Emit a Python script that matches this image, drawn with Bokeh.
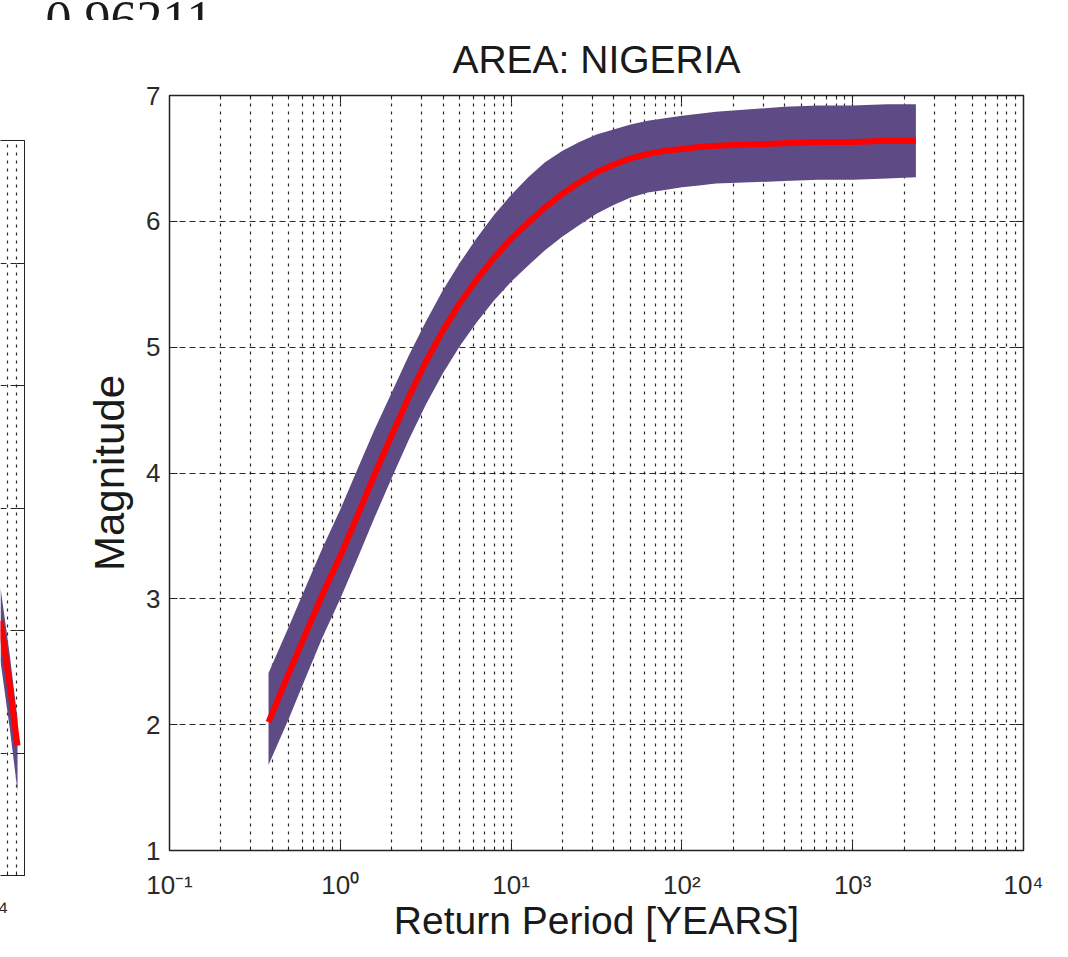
from bokeh.plotting import figure
from bokeh.models import Range1d, FixedTicker, LinearAxis, LogAxis, Label
from bokeh.layouts import row, column
from bokeh.embed import file_html
from bokeh.resources import INLINE

# ---------------- data ----------------
return_period = [0.38, 0.50, 0.63, 0.79, 1.0, 1.26, 1.58, 2.0, 2.51, 3.16, 3.98,
                 5.01, 6.31, 7.94, 10.0, 12.6, 15.8, 20.0, 25.1, 31.6, 39.8,
                 50.1, 63.1, 79.4, 100.0, 126.0, 158.0, 251.0, 398.0, 631.0,
                 1000.0, 1585.0, 2344.0]
magnitude = [2.02, 2.41, 2.73, 3.04, 3.34, 3.66, 3.98, 4.30, 4.60, 4.88, 5.13,
             5.35, 5.54, 5.71, 5.86, 5.99, 6.11, 6.22, 6.31, 6.39, 6.45,
             6.50, 6.535, 6.56, 6.575, 6.59, 6.60, 6.61, 6.62, 6.63,
             6.63, 6.64, 6.64]
upper_bound = [2.41, 2.78, 3.10, 3.41, 3.71, 4.03, 4.34, 4.64, 4.93, 5.20, 5.45,
               5.67, 5.87, 6.05, 6.21, 6.35, 6.47, 6.56, 6.63, 6.69, 6.73,
               6.77, 6.80, 6.82, 6.84, 6.855, 6.87, 6.89, 6.91, 6.92,
               6.92, 6.93, 6.93]
lower_bound = [1.68, 2.05, 2.38, 2.70, 3.00, 3.32, 3.64, 3.96, 4.26, 4.54, 4.79,
               5.01, 5.20, 5.37, 5.52, 5.65, 5.77, 5.88, 5.97, 6.06, 6.13,
               6.19, 6.23, 6.25, 6.27, 6.285, 6.30, 6.31, 6.32, 6.33,
               6.33, 6.34, 6.35]

# fragment of the neighbouring (cropped) panel on the left
left_period = [7237.0, 8200.0, 9100.0]
left_magnitude = [3.08, 2.55, 2.06]
left_upper = [3.35, 2.80, 2.28]
left_lower = [2.75, 2.20, 1.69]

decade_ticks = [0.1, 1, 10, 100, 1000, 10000]
decade_labels = ["10⁻¹", "10⁰", "10¹", "10²", "10³", "10⁴"]
magnitude_ticks = [1, 2, 3, 4, 5, 6, 7]
corner_text = "0.96211"

PURPLE = "#5E4A84"
RED = "#FF0000"
GRID = "#111111"
FONT = "Liberation Sans"

minor = [m * d for d in decade_ticks[:-1] for m in range(2, 10)]


def style_axis(ax, ticker, hidden=False):
    ax.ticker = ticker
    ax.major_tick_in = 8
    ax.major_tick_out = 0
    ax.minor_tick_in = 4
    ax.minor_tick_out = 0
    ax.axis_line_color = "#222222"
    ax.major_tick_line_color = "#222222"
    ax.minor_tick_line_color = "#222222"
    ax.major_label_text_font = FONT
    ax.major_label_text_color = "#2a2a2a"
    ax.axis_label_text_font = FONT
    ax.axis_label_text_font_style = "normal"
    ax.axis_label_text_color = "#1a1a1a"
    if hidden:
        ax.major_label_text_font_size = "2px"
        ax.major_label_text_alpha = 0
        ax.major_label_standoff = 0


def style_grid(fig, xt, yt):
    fig.xgrid.ticker = xt
    fig.ygrid.ticker = yt
    fig.xgrid.grid_line_color = GRID
    fig.xgrid.grid_line_dash = "3 5"
    fig.xgrid.grid_line_width = 1.2
    fig.xgrid.grid_line_alpha = 0.9
    fig.xgrid.minor_grid_line_color = GRID
    fig.xgrid.minor_grid_line_dash = "3 5"
    fig.xgrid.minor_grid_line_width = 1.2
    fig.xgrid.minor_grid_line_alpha = 0.9
    fig.ygrid.grid_line_color = GRID
    fig.ygrid.grid_line_dash = "6 4"
    fig.ygrid.grid_line_width = 1.2
    fig.ygrid.grid_line_alpha = 0.9


# ---------------- strip with the caption cut at the top ----------------
cap = figure(width=1066, height=20, x_range=Range1d(0, 1), y_range=Range1d(0, 1),
             output_backend="svg", toolbar_location=None,
             x_axis_location=None, y_axis_location=None, frame_align=False,
             min_border_left=0, min_border_right=0,
             min_border_top=0, min_border_bottom=0)
cap.outline_line_color = None
cap.xgrid.visible = False
cap.ygrid.visible = False
cap.add_layout(Label(x=45, y=1, x_units="screen", y_units="screen",
                     text=corner_text, text_font="Liberation Serif",
                     text_font_size="52px", text_color="#1a1a1a",
                     text_baseline="alphabetic"))

# ---------------- left fragment ----------------
lp = figure(width=26, height=935, x_axis_type="log",
            x_range=Range1d(7237, 10000), y_range=Range1d(1, 7),
            output_backend="svg", toolbar_location=None,
            x_axis_location=None, y_axis_location=None,
            frame_align=False,
            min_border_left=0, min_border_right=2,
            min_border_top=120, min_border_bottom=80)
lp.outline_line_color = None
lp.varea(x=left_period, y1=left_lower, y2=left_upper, fill_color=PURPLE)
lp.line(left_period, left_magnitude, line_color=RED, line_width=6)

l_ticker = FixedTicker(ticks=[10000], minor_ticks=[8000, 9000])
l_yticker = FixedTicker(ticks=magnitude_ticks)
l_bottom = LogAxis()
style_axis(l_bottom, l_ticker)
l_bottom.major_label_overrides = {10000: "10⁴"}
l_bottom.major_label_text_font_size = "26px"
l_bottom.major_label_standoff = 19
lp.add_layout(l_bottom, "below")

l_top = LogAxis()
style_axis(l_top, l_ticker, hidden=True)
l_top.major_tick_in = 0
l_top.minor_tick_in = 0
lp.add_layout(l_top, "above")

l_right = LinearAxis()
style_axis(l_right, l_yticker, hidden=True)
l_right.minor_tick_line_color = None
lp.add_layout(l_right, "right")
style_grid(lp, l_ticker, l_yticker)

# ---------------- main panel ----------------
p = figure(width=1040, height=935, x_axis_type="log",
           x_range=Range1d(0.1, 10000), y_range=Range1d(1, 7),
           output_backend="svg", toolbar_location=None,
           x_axis_location=None, y_axis_location=None,
           frame_align=False,
           title="AREA: NIGERIA",
           min_border_left=143, min_border_right=43,
           min_border_top=75, min_border_bottom=105)
p.title.text_font = FONT
p.title.text_font_size = "39px"
p.title.text_font_style = "normal"
p.title.text_color = "#1a1a1a"
p.title.align = "center"
p.title.standoff = 30

p.varea(x=return_period, y1=lower_bound, y2=upper_bound, fill_color=PURPLE)
p.line(return_period, magnitude, line_color=RED, line_width=6)

x_ticker = FixedTicker(ticks=decade_ticks, minor_ticks=minor)
y_ticker = FixedTicker(ticks=magnitude_ticks)

x_bottom = LogAxis()
style_axis(x_bottom, x_ticker)
x_bottom.major_label_overrides = dict(zip(decade_ticks, decade_labels))
x_bottom.major_label_text_font_size = "26px"
x_bottom.major_label_standoff = 19
x_bottom.axis_label = "Return Period [YEARS]"
x_bottom.axis_label_text_font_size = "39px"
x_bottom.axis_label_standoff = -4
p.add_layout(x_bottom, "below")

x_top = LogAxis()
style_axis(x_top, x_ticker, hidden=True)
p.add_layout(x_top, "above")

y_left = LinearAxis()
style_axis(y_left, y_ticker)
y_left.minor_tick_line_color = None
y_left.major_label_text_font_size = "26px"
y_left.major_label_standoff = 9
y_left.axis_label = "Magnitude"
y_left.axis_label_text_font_size = "42px"
y_left.axis_label_standoff = 10
p.add_layout(y_left, "left")

y_right = LinearAxis()
style_axis(y_right, y_ticker, hidden=True)
y_right.minor_tick_line_color = None
p.add_layout(y_right, "right")

style_grid(p, x_ticker, y_ticker)
p.outline_line_color = "#222222"
p.outline_line_width = 1.5

layout = column(cap, row(lp, p, spacing=0), spacing=0)
open("out.html", "w").write(file_html(layout, INLINE))
